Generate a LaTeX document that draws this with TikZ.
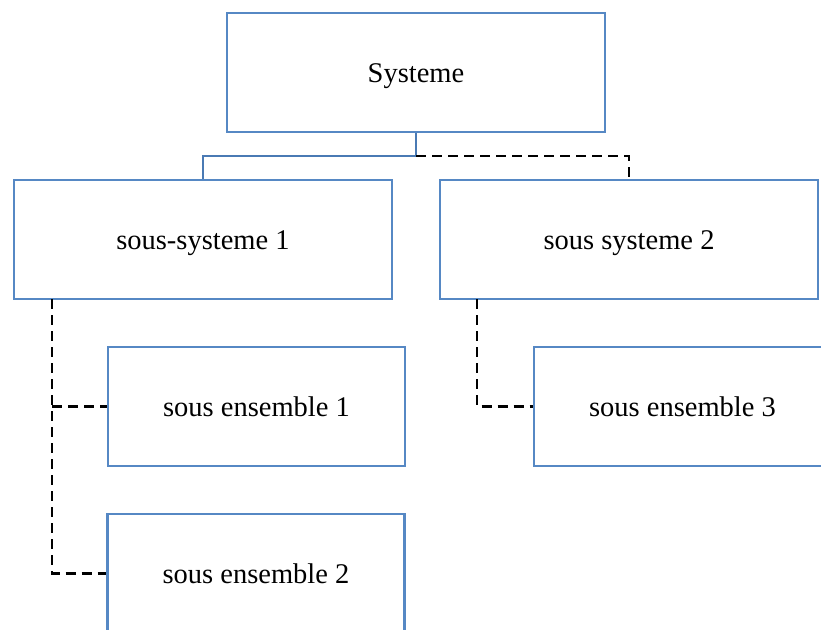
\documentclass[tikz,border=0pt]{standalone}
\usepackage{fontspec}
\setmainfont{Liberation Serif}
\usetikzlibrary{positioning}

\definecolor{boxblue}{RGB}{86,136,196}
\definecolor{linkblue}{RGB}{74,122,180}

\tikzset{
  block/.style={draw=boxblue,line width=2.3pt,fill=white,
    minimum width=378pt,minimum height=119pt,inner sep=0pt,
    text height=19pt,text depth=0pt,
    font=\fontsize{28.5}{34}\selectfont},
  subblock/.style={block,minimum width=297pt},
  link/.style={draw=linkblue,line width=2.3pt},
  dep/.style={draw=black,line width=2.3pt,dash pattern=on 10pt off 6pt}
}

\begin{document}
\begin{tikzpicture}[x=1pt,y=-1pt]
  \useasboundingbox (0,0) rectangle (821,629);
  \clip (0,0) rectangle (821,629);

  % top level and the two branches
  \node[block] (sys) at (416,72.5) {Systeme};
  \node[block] (ss1) at (203,239.5) {sous-systeme 1};
  \node[block] (ss2) at (629,239.5) {sous systeme 2};

  % leaves
  \node[subblock] (se1) at (256.5,406.5) {sous ensemble 1};
  \node[subblock] (se2) at (256,573.5) {sous ensemble 2};
  \node[subblock] (se3) at (682.5,406.5) {sous ensemble 3};

  \coordinate (fork) at (416,156);
  \coordinate (tap1) at (52,299);
  \coordinate (tap2) at (477,299);

  \draw[link] (sys.south) -- (fork) -| (ss1.north);
  \draw[dep] (fork) -| (ss2.north);
  \draw[dep] (tap1) |- (se2.west);
  \draw[dep] (tap1 |- se1.west) -- (se1.west);
  \draw[dep] (tap2) |- (se3.west);
\end{tikzpicture}
\end{document}
